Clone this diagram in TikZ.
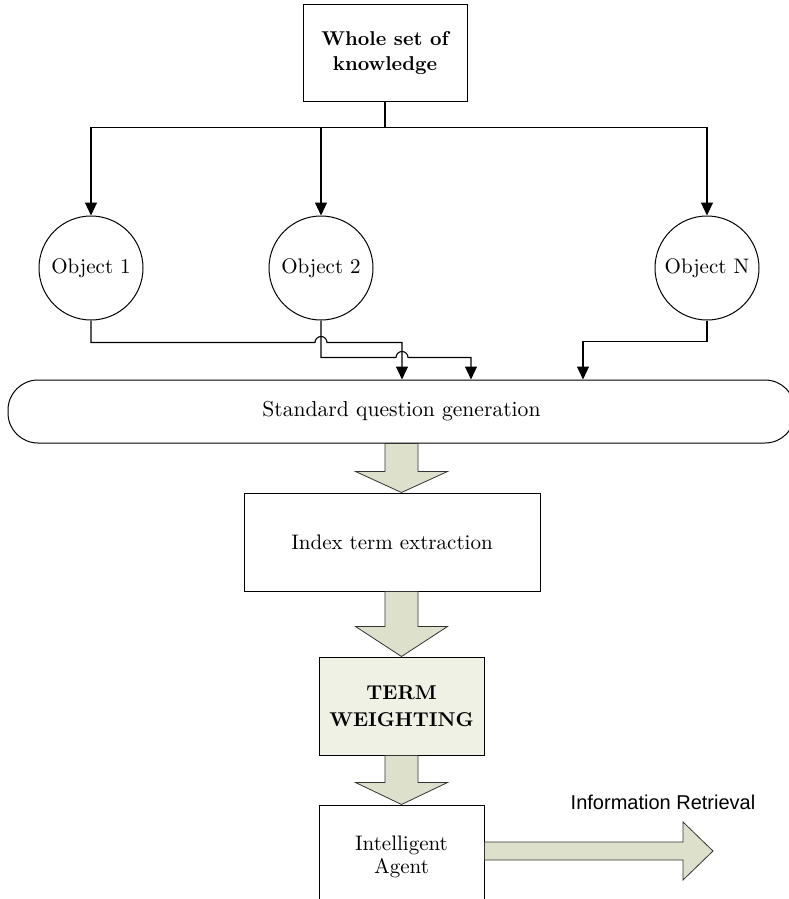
\documentclass[tikz,border=0pt]{standalone}
\usepackage{fontspec}
\newfontfamily\arialfont{Liberation Sans}
\usepackage{tikz}
\usetikzlibrary{positioning,calc,arrows.meta}

\definecolor{arrowgreen}{RGB}{221,225,204}
\definecolor{termgreen}{RGB}{238,241,227}

% wide block arrow pointing down: from, to, head length, axis node
\newcommand{\blockdown}[4]{%
  \filldraw[blockarrow] let \p1=(#1.south), \p2=(#2.north), \p3=(#4) in
    (\x3-8.25pt,\y1) -- (\x3+8.25pt,\y1) -- (\x3+8.25pt,\y2+#3) -- (\x3+23pt,\y2+#3)
    -- (\x3,\y2) -- (\x3-23pt,\y2+#3) -- (\x3-8.25pt,\y2+#3) -- cycle;
}

\begin{document}
\begin{tikzpicture}[
    x=0.5pt, y=-0.5pt,
    node distance=24.5pt,
    box/.style={rectangle, draw=black, line width=0.5pt, text centered, align=center, font=\fontsize{10.5}{12.5}\selectfont},
    object/.style={circle, draw=black, line width=0.5pt, minimum size=52pt, inner sep=0pt, font=\fontsize{10.5}{12}\selectfont},
    pill/.style={rectangle, rounded corners=15pt, draw=black, line width=0.5pt, minimum width=393.5pt, minimum height=31.5pt, font=\fontsize{10.8}{12}\selectfont},
    link/.style={line width=0.55pt, -{Triangle[width=6pt,length=6.5pt]}},
    blockarrow/.style={fill=arrowgreen, draw=black!80, line width=0.4pt}
]
\useasboundingbox (0,0) rectangle (788,899);

\node (whole) [box, minimum width=82pt, minimum height=48.5pt, font=\fontsize{10}{12.5}\selectfont\bfseries] at (385,53.5) {Whole set of\\knowledge};

\node (obj1) [object] at (91,268) {Object 1};
\node (obj2) [object, right=62.5pt of obj1] {Object 2};
\node (objN) [object, right=140.5pt of obj2] {Object N};

\node (gen) [pill] at (401.5,411.5) {Standard question generation};
\node (index) [box, below=of gen, xshift=-4.75pt, minimum width=148pt, minimum height=49pt] {Index term extraction};
\node (term) [box, below=32.5pt of index, xshift=4.75pt, fill=termgreen, minimum width=82.5pt, minimum height=49pt, font=\fontsize{10}{13.5}\selectfont\bfseries] {TERM\\WEIGHTING};
\node (agent) [box, below=of term, minimum width=82.5pt, minimum height=52pt, font=\fontsize{10.5}{11.5}\selectfont] {Intelligent\\Agent};

\coordinate (irtip) at (713,851);
\node (irlabel) [font=\fontsize{10}{12}\arialfont] at (663,802) {Information Retrieval};

% Arrows
\draw [link] (whole.south) -- ++(0,25) -| (obj1.north);
\draw [link] (whole.south) -- ++(0,25) -| (obj2.north);
\draw [link] (whole.south) -- ++(0,25) -| (objN.north);

\draw [link] (obj1.south) |- ($(obj2.south)+(-6,22)$) arc[start angle=180, end angle=0, radius=3pt] -| ($(gen.north)+(0.5,0)$);
\draw [link] (obj2.south) |- ($(gen.north)+(-5.5,-22)$) arc[start angle=180, end angle=0, radius=3pt] -| ($(gen.north)+(69.5,0)$);
\draw [link] (objN.south) -- ++(0,21) -| ($(gen.north)+(181.5,0)$);

\blockdown{gen}{index}{10.5pt}{gen}
\blockdown{index}{term}{15pt}{term}
\blockdown{term}{agent}{11pt}{term}

\filldraw[blockarrow] let \p1=(agent.east), \p2=(irtip) in
  (\x1,\y2+4.5pt) -- (\x2-15pt,\y2+4.5pt) -- (\x2-15pt,\y2+14.5pt) -- (irtip)
  -- (\x2-15pt,\y2-14.5pt) -- (\x2-15pt,\y2-4.5pt) -- (\x1,\y2-4.5pt) -- cycle;

\end{tikzpicture}
\end{document}
